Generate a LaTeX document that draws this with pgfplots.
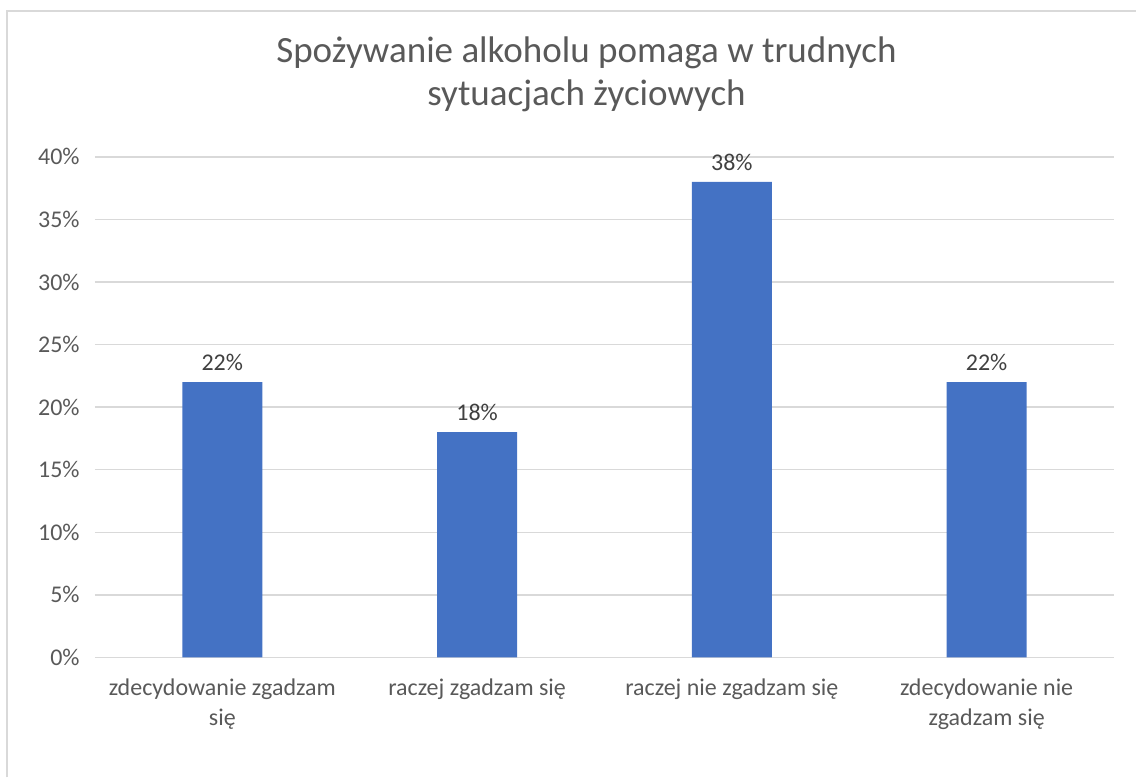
\documentclass[border=0pt]{standalone}
\usepackage{fontspec}
\setmainfont{Carlito}
\usepackage{pgfplots}
\pgfplotsset{compat=1.18}
\definecolor{barblue}{HTML}{4472C4}
\definecolor{txt}{HTML}{595959}
\definecolor{lbl}{HTML}{404040}
\definecolor{gridc}{HTML}{D9D9D9}

\begin{document}
\begin{tikzpicture}
% page = 1137 x 778 px, 1 px = 0.75pt, origin bottom left
\path (0pt,0pt) rectangle (852.75pt,583.5pt);
\draw[gridc, line width=1.5pt] (5.25pt,0pt) -- (5.25pt,575.25pt) -- (852.75pt,575.25pt);

\node[txt, font=\fontsize{27.8}{33}\selectfont, anchor=base] at (440.25pt,536.25pt) {Spożywanie alkoholu pomaga w trudnych};
\node[txt, font=\fontsize{27.8}{33}\selectfont, anchor=base] at (440.25pt,504pt) {sytuacjach życiowych};

\begin{axis}[
  at={(71.25pt,90pt)}, anchor=south west,
  scale only axis,
  width=765pt, height=375.75pt,
  xmin=-0.5, xmax=3.5,
  ymin=0, ymax=40,
  ytick={0,5,...,40},
  xtick={0,1,2,3},
  xticklabels={{zdecydowanie zgadzam\\się},{raczej zgadzam się},{raczej nie zgadzam się},{zdecydowanie nie\\zgadzam się}},
  yticklabel={\pgfmathprintnumber[assume math mode=true, fixed, precision=0]{\tick}\%},
  axis line style={draw=none},
  major tick length=0pt,
  ymajorgrids,
  grid style={draw=gridc, line width=1pt},
  tick label style={font=\fontsize{18}{22.5}\selectfont, text=txt},
  xticklabel style={align=center, yshift=-12.5pt},
  yticklabel style={xshift=-8pt},
  ybar, bar width=60pt,
  nodes near coords={\pgfmathprintnumber[assume math mode=true, fixed, precision=0]{\pgfplotspointmeta}\%},
  nodes near coords style={font=\fontsize{18}{22.5}\selectfont, text=lbl, yshift=5pt},
  clip=false,
]
\addplot[fill=barblue, draw=none] coordinates {(0,22) (1,18) (2,38) (3,22)};
\end{axis}
\end{tikzpicture}
\end{document}
